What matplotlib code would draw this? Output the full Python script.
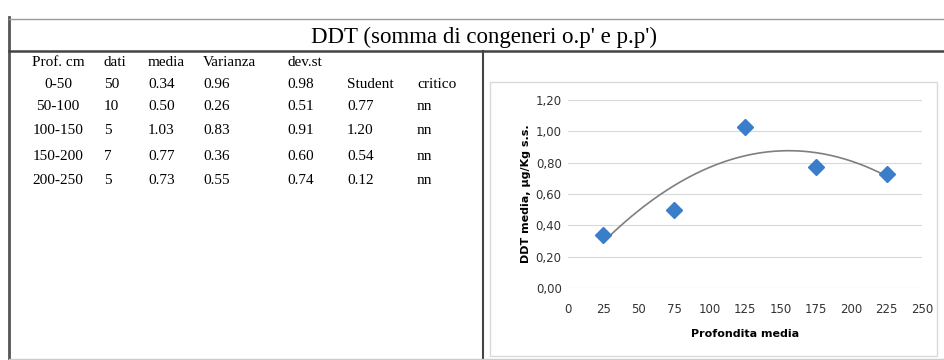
import numpy as np
import matplotlib.pyplot as plt
from matplotlib.patches import Rectangle

# Table data (DDT, somma di congeneri o.p' e p.p')
header = ["Prof. cm", "dati", "media", "Varianza", "dev.st"]
depth_ranges = ["0-50", "50-100", "100-150", "150-200", "200-250"]
n_dati = ["50", "10", "5", "7", "5"]
media = [0.34, 0.50, 1.03, 0.77, 0.73]
varianza = [0.96, 0.26, 0.83, 0.36, 0.55]
dev_st = [0.98, 0.51, 0.91, 0.60, 0.74]
t_student = ["Student", "0.77", "1.20", "0.54", "0.12"]
critico = ["critico", "nn", "nn", "nn", "nn"]

# Chart data
prof_media = [25, 75, 125, 175, 225]
x_ticks = [0, 25, 50, 75, 100, 125, 150, 175, 200, 225, 250]
y_ticks = [0.0, 0.2, 0.4, 0.6, 0.8, 1.0, 1.2]

W, H = 945, 360
fig = plt.figure(figsize=(W / 100, H / 100), dpi=100)

# overlay in pixel coordinates for frame, title and table
ov = fig.add_axes([0, 0, 1, 1])
ov.set_xlim(0, W)
ov.set_ylim(H, 0)
ov.axis("off")

serif = "Liberation Serif"
ov.plot([9, 9], [17, 360], color="#555555", lw=2)
ov.plot([9, W], [19, 19], color="#999999", lw=1)
ov.plot([9, W], [51, 51], color="#444444", lw=1.8)
ov.plot([483, 483], [51, 360], color="#444444", lw=1.5)
ov.plot([9, W], [359, 359], color="#cccccc", lw=1)
ov.text(484, 37, "DDT (somma di congeneri o.p' e p.p')", family=serif,
        fontsize=16.5, ha="center", va="center")

# table
col_x = [58, 104, 148, 203, 287, 347, 417]
row_y = [63, 84, 107, 131, 156, 181]
fs = 11
for j, h in enumerate(header):
    ov.text(col_x[j], row_y[0], h, family=serif, fontsize=fs, va="center",
            ha="center" if j == 0 else "left")
for i in range(len(depth_ranges)):
    y = row_y[i + 1]
    cells = [depth_ranges[i], n_dati[i], f"{media[i]:.2f}", f"{varianza[i]:.2f}",
             f"{dev_st[i]:.2f}", t_student[i], critico[i]]
    for j, c in enumerate(cells):
        ov.text(col_x[j], y, c, family=serif, fontsize=fs, va="center",
                ha="center" if j == 0 else "left")

# chart area border
ov.add_patch(Rectangle((490, 82), 447, 274, fill=False, ec="#d9d9d9", lw=1))

# scatter chart
ax = fig.add_axes([568 / W, (H - 288) / H, (922 - 568) / W, (288 - 100) / H])
ax.set_xlim(0, 250)
ax.set_ylim(0, 1.2)
ax.set_xticks(x_ticks)
ax.set_yticks(y_ticks)
ax.set_yticklabels([f"{v:.2f}".replace(".", ",") for v in y_ticks])
for s in ax.spines.values():
    s.set_visible(False)
ax.tick_params(length=0, labelsize=8.5, colors="#333333")
ax.tick_params(axis="y", pad=4.5)
ax.tick_params(axis="x", pad=11)
ax.grid(axis="y", color="#d9d9d9", lw=0.8)
ax.set_axisbelow(True)

coef = np.polyfit(prof_media, media, 2)
xs = np.linspace(prof_media[0], prof_media[-1], 200)
ax.plot(xs, np.polyval(coef, xs), color="#7f7f7f", lw=1.2)
ax.plot(prof_media, media, "D", color="#3a7dc9", ms=8, ls="none")

ax.set_xlabel("Profondita media", fontsize=8, fontweight="bold", labelpad=9)
ax.set_ylabel("DDT media, \u00b5g/Kg s.s.", fontsize=8, fontweight="bold", labelpad=3)

fig.savefig("out.png", dpi=100)
